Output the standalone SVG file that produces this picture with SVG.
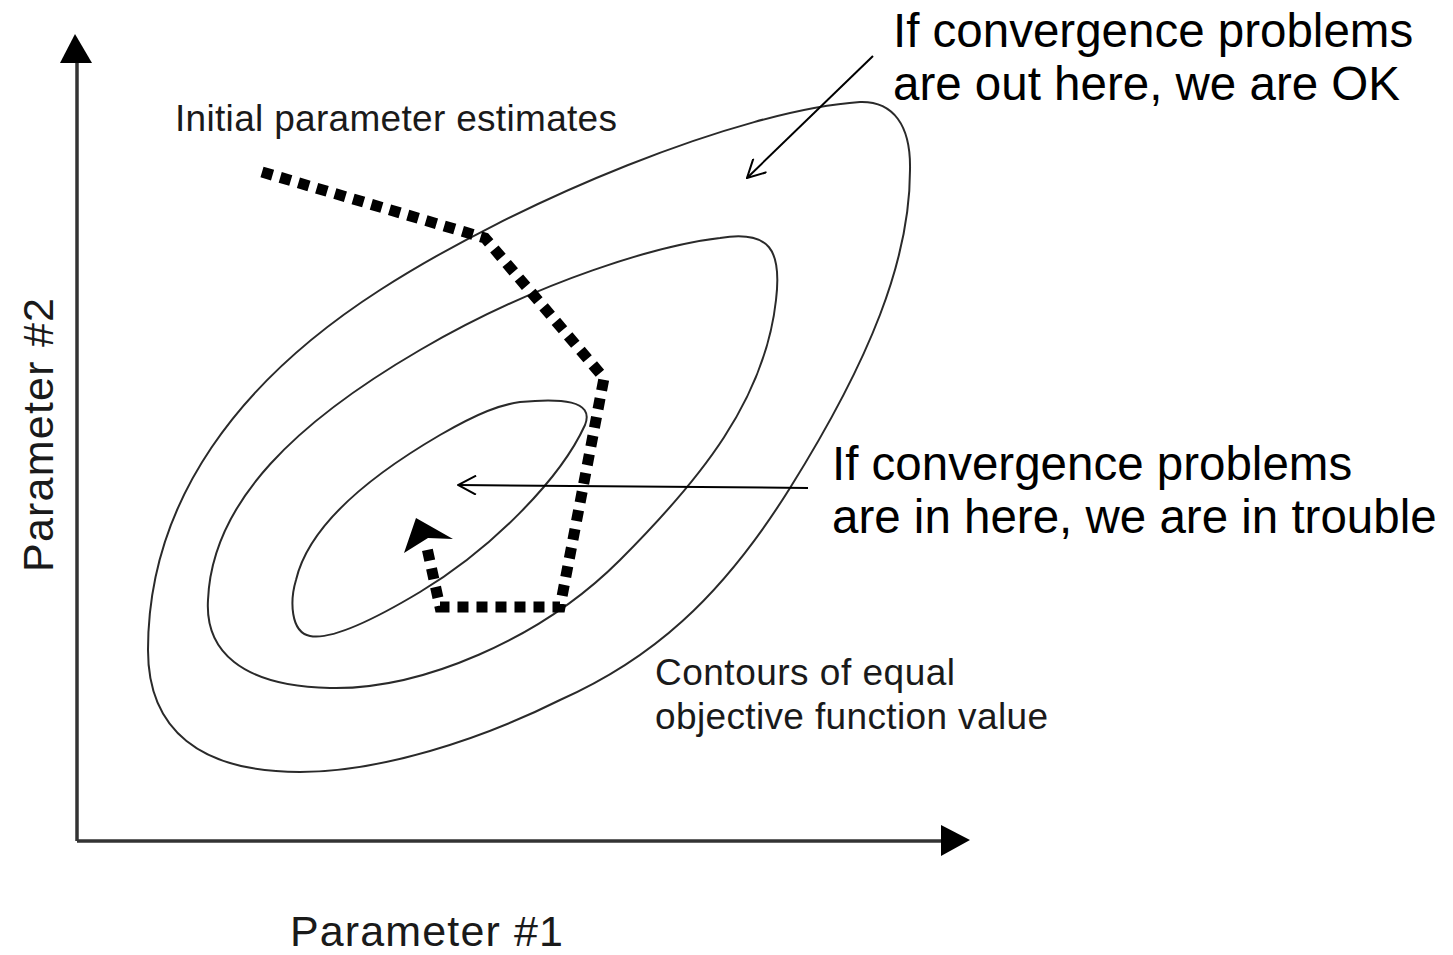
<svg xmlns="http://www.w3.org/2000/svg" width="1453" height="955" viewBox="0 0 1453 955">
<style>
.contour{fill:none;stroke:#2a2a2a;stroke-width:2}
.axis{fill:none;stroke:#333;stroke-width:3.5}
.head{fill:#000}
.path{fill:none;stroke:#000;stroke-width:11;stroke-dasharray:11 8}
.ptr{fill:none;stroke:#000;stroke-width:2}
.small{font-family:"Liberation Sans",Arial,sans-serif;fill:#1a1a1a}
.big{font-family:"Liberation Sans",Arial,sans-serif;fill:#000;font-size:47.5px}
</style>
<defs>
<marker id="open" markerUnits="userSpaceOnUse" viewBox="0 0 20 20" markerWidth="20" markerHeight="20" refX="19" refY="10" orient="auto">
<path d="M1,0.5 L19,10 L1,19.5" fill="none" stroke="#000" stroke-width="2"/>
</marker>
</defs>
<rect width="1453" height="955" fill="#fff"/>
<g id="axes">
<line class="axis" x1="77" y1="841" x2="77" y2="60"/>
<polygon class="head" points="75,34 60,63 92,63"/>
<line class="axis" x1="77" y1="841" x2="944" y2="841"/>
<polygon class="head" points="970,840 941,825 941,856"/>
</g>
<g id="contours">
<path id="outer" class="contour" d="M860,102 C893,101 911,125 910,170 C910,260 870,360 790,488 C720,600 650,660 560,700 C480,740 380,772 300,772 C200,772 148,730 148,650 C148,500 240,380 380,290 C520,200 740,110 860,102 Z"/>
<path id="middle" class="contour" d="M720,238 C770,230 782,250 776,300 C765,400 700,480 620,560 C540,640 420,690 330,688 C240,686 205,650 208,600 C212,500 300,420 420,350 C540,280 660,245 720,238 Z"/>
<path id="inner" class="contour" d="M520,402 C560,398 595,400 585,425 C560,480 490,550 420,592 C370,622 330,640 310,636 C290,632 290,600 296,580 C310,520 380,470 440,435 C480,412 500,405 520,402 Z"/>
</g>
<g id="search-path">
<path class="path" d="M262,172 L485,238 L604,378 L560,607 L440,607 L427,548"/>
<polygon class="head" points="416,518 404,553 428,538 453,539"/>
</g>
<g id="connectors">
<line class="ptr" x1="873" y1="56" x2="747" y2="178" marker-end="url(#open)"/>
<line class="ptr" x1="808" y1="488" x2="458" y2="485" marker-end="url(#open)"/>
</g>
<g id="label-initial">
<text class="small" x="175" y="131" font-size="37" textLength="442" lengthAdjust="spacing">Initial parameter estimates</text>
</g>
<g id="label-contours">
<text class="small" x="655" y="685" font-size="37" textLength="300" lengthAdjust="spacing">Contours of equal</text>
<text class="small" x="655" y="729" font-size="37" textLength="393" lengthAdjust="spacing">objective function value</text>
</g>
<g id="label-out">
<text class="big" x="893" y="47">If convergence problems</text>
<text class="big" x="893" y="100">are out here, we are OK</text>
</g>
<g id="label-in">
<text class="big" x="832" y="480">If convergence problems</text>
<text class="big" x="832" y="533">are in here, we are in trouble</text>
</g>
<g id="axis-labels">
<text class="small" x="290" y="946" font-size="43" textLength="273" lengthAdjust="spacing">Parameter #1</text>
<text class="small" transform="translate(53,572) rotate(-90)" x="0" y="0" font-size="43" textLength="274" lengthAdjust="spacing">Parameter #2</text>
</g>
</svg>
